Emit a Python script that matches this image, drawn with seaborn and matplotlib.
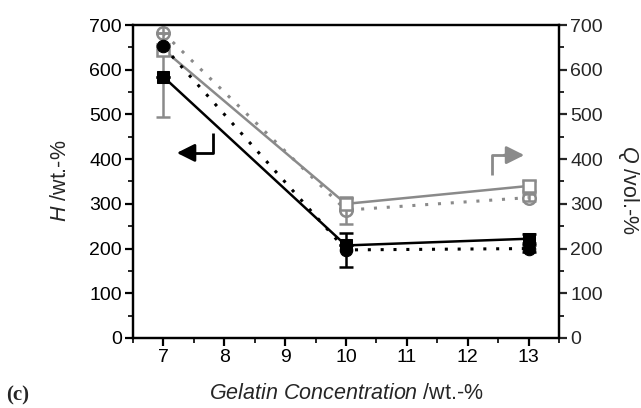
import matplotlib
matplotlib.use("Agg")
import matplotlib.pyplot as plt
import seaborn as sns
import pandas as pd
import numpy as np

# Data
conc = [7, 10, 13]
H_black_sq = [584, 207, 222]      # solid black, squares
H_black_ci = [652, 197, 200]      # dotted black, circles
Q_grey_sq = [645, 300, 340]       # solid grey, open squares
Q_grey_ci = [682, 286, 314]       # dotted grey, open circles
err_black_sq = [0, 0, 10]
err_black_ci = [0, 38, 8]
err_grey_sq = [150, 12, 12]
err_grey_ci = [0, 30, 8]

xticks = [7, 8, 9, 10, 11, 12, 13]
yticks = [0, 100, 200, 300, 400, 500, 600, 700]

sns.set_theme(style="ticks")
plt.rcParams['font.family'] = ['Liberation Sans', 'DejaVu Sans']
plt.rcParams['mathtext.fontset'] = 'custom'
plt.rcParams['mathtext.rm'] = 'Liberation Sans'
plt.rcParams['mathtext.it'] = 'Liberation Sans:italic'

GREY = "#8a8a8a"
BLACK = "#000000"
TICK_FS = 14
LABEL_FS = 15.5

fig = plt.figure(figsize=(6.41, 4.08), dpi=100)
ax = fig.add_axes([0.2075, 0.1716, 0.6645, 0.7671])
ax2 = ax.twinx()

df = pd.DataFrame({"x": conc, "bs": H_black_sq, "bc": H_black_ci,
                   "gs": Q_grey_sq, "gc": Q_grey_ci})

# error bars
ax.errorbar(conc, Q_grey_sq, yerr=err_grey_sq, fmt="none", ecolor=GREY,
            elinewidth=1.8, capsize=5, capthick=1.8, zorder=2)
ax.errorbar(conc, Q_grey_ci, yerr=err_grey_ci, fmt="none", ecolor=GREY,
            elinewidth=1.8, capsize=5, capthick=1.8, zorder=2)
ax.errorbar(conc, H_black_sq, yerr=err_black_sq, fmt="none", ecolor=BLACK,
            elinewidth=1.8, capsize=5, capthick=1.8, zorder=2)
ax.errorbar(conc, H_black_ci, yerr=err_black_ci, fmt="none", ecolor=BLACK,
            elinewidth=1.8, capsize=5, capthick=1.8, zorder=2)

sns.lineplot(data=df, x="x", y="gc", ax=ax, color=GREY, lw=2.2,
             linestyle=(0, (1, 3.2)), marker="o", markersize=9,
             markerfacecolor="none", markeredgecolor=GREY, markeredgewidth=1.8, zorder=3)
sns.lineplot(data=df, x="x", y="gs", ax=ax, color=GREY, lw=1.8,
             marker="s", markersize=9, markerfacecolor="white",
             markeredgecolor=GREY, markeredgewidth=1.8, zorder=4)
sns.lineplot(data=df, x="x", y="bc", ax=ax, color=BLACK, lw=2.2,
             linestyle=(0, (1, 3.2)), marker="o", markersize=9,
             markerfacecolor=BLACK, markeredgecolor=BLACK, zorder=5)
sns.lineplot(data=df, x="x", y="bs", ax=ax, color=BLACK, lw=1.8,
             marker="s", markersize=9, markerfacecolor=BLACK,
             markeredgecolor=BLACK, zorder=6)

# indicator arrows
ax.plot([7.81, 7.81, 7.45], [458, 414, 414], color=BLACK, lw=2, solid_capstyle="butt", zorder=6)
ax.annotate("", xy=(7.22, 414), xytext=(7.5, 414),
            arrowprops=dict(arrowstyle="-|>,head_length=0.9,head_width=0.45",
                            color=BLACK, lw=2, shrinkA=0, shrinkB=0))
ax.plot([12.4, 12.4, 12.65], [365, 409, 409], color=GREY, lw=2, solid_capstyle="butt", zorder=6)
ax.annotate("", xy=(12.93, 409), xytext=(12.6, 409),
            arrowprops=dict(arrowstyle="-|>,head_length=0.9,head_width=0.45",
                            color=GREY, lw=2, shrinkA=0, shrinkB=0))

for a in (ax, ax2):
    a.set_ylim(0, 700)
    a.set_yticks(yticks)
    a.set_yticks(np.arange(50, 700, 100), minor=True)
    for s in a.spines.values():
        s.set_linewidth(1.6)
        s.set_color("black")

ax.set_xlim(6.5, 13.5)
ax.set_xticks(xticks)
ax.set_xticks(np.arange(6.5, 13.6, 1.0), minor=True)
ax.set_yticklabels([str(v) for v in yticks])
ax2.set_yticklabels([str(v) for v in yticks])

ax.tick_params(which="major", direction="out", length=6, width=1.6, labelsize=TICK_FS, pad=2, colors="black")
ax.tick_params(which="minor", direction="out", length=3.5, width=1.4)
ax2.tick_params(which="major", direction="out", length=6, width=1.6, labelsize=TICK_FS, pad=2)
ax2.tick_params(which="minor", direction="out", length=3.5, width=1.4)
ax.tick_params(axis="x", top=False, which="both")

ax.set_xlabel("")
ax.set_ylabel("")
ax2.set_ylabel("")

fig.text(0.54, 0.035, r"$\it{Gelatin\ Concentration}$ /wt.-%", ha="center", va="center", fontsize=LABEL_FS)
fig.text(0.095, 0.556, r"$\it{H}$ /wt.-%", ha="center", va="center", rotation=90, fontsize=LABEL_FS)
fig.text(0.98, 0.534, r"$\it{Q}$ /vol.-%", ha="center", va="center", rotation=270, fontsize=LABEL_FS)
fig.text(0.01, 0.03, "(c)", fontsize=15, fontweight="bold", family="Liberation Serif", ha="left", va="center")

fig.savefig("out.png", dpi=100)
